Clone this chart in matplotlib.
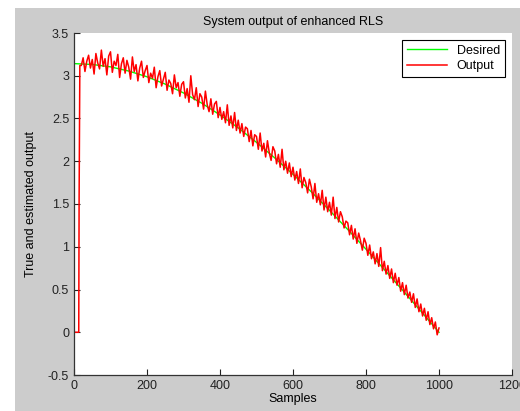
import numpy as np
import matplotlib
matplotlib.use("Agg")
import matplotlib.pyplot as plt
from matplotlib.patches import Rectangle

# Desired signal (read every 50 samples)
n_desired = [0, 50, 100, 150, 200, 250, 300, 350, 400, 450, 500,
             550, 600, 650, 700, 750, 800, 850, 900, 950, 1000]
desired = [3.142, 3.132, 3.104, 3.055, 2.988, 2.902, 2.799, 2.679, 2.542, 2.390, 2.221,
           2.039, 1.847, 1.643, 1.426, 1.202, 0.971, 0.734, 0.493, 0.248, 0.0]

# Output of enhanced RLS: start-up step, then read every 5 samples from 20 on
n_start = [0, 13, 14, 16]
output_start = [0.0, 0.0, 1.57, 3.12]
output = [
    3.12, 3.21, 3.05, 3.17, 3.24, 3.09,
    3.19, 3.02, 3.26, 3.15, 3.08, 3.30, 3.11, 3.20, 3.01, 3.23,
    3.28, 3.04, 3.17, 3.12, 3.25, 2.98, 3.14, 3.21, 3.03, 3.18,
    3.10, 2.96, 3.22, 3.05, 3.13, 2.94, 3.09, 3.17, 2.98, 3.06,
    3.12, 2.92, 3.03, 2.97, 3.10, 2.86, 2.99, 3.06, 2.88, 2.96,
    3.04, 2.83, 2.95, 2.91, 2.79, 3.01, 2.86, 2.92, 2.76, 2.90,
    2.93, 2.74, 2.85, 2.69, 3.00, 2.78, 2.72, 2.86, 2.64, 2.79,
    2.75, 2.61, 2.82, 2.66, 2.58, 2.73, 2.55, 2.67, 2.70, 2.51,
    2.63, 2.49, 2.58, 2.45, 2.66, 2.42, 2.53, 2.39, 2.57, 2.36,
    2.48, 2.33, 2.44, 2.29, 2.40, 2.38, 2.23, 2.36, 2.18, 2.31,
    2.29, 2.14, 2.33, 2.12, 2.21, 2.05, 2.24, 2.10, 2.01, 2.17,
    2.12, 1.97, 2.08, 1.93, 2.14, 1.90, 2.00, 1.86, 1.98, 1.82,
    1.93, 1.78, 1.88, 1.74, 1.91, 1.69, 1.81, 1.75, 1.63, 1.79,
    1.70, 1.56, 1.74, 1.52, 1.62, 1.49, 1.66, 1.43, 1.58, 1.41,
    1.52, 1.37, 1.58, 1.33, 1.46, 1.29, 1.41, 1.35, 1.22, 1.30,
    1.28, 1.14, 1.25, 1.09, 1.21, 1.04, 1.16, 1.07, 0.96, 1.10,
    1.04, 0.90, 1.02, 0.86, 0.94, 0.80, 0.92, 0.77, 0.99, 0.72,
    0.83, 0.68, 0.78, 0.63, 0.74, 0.58, 0.69, 0.55, 0.64, 0.48,
    0.58, 0.44, 0.55, 0.40, 0.47, 0.35, 0.45, 0.29, 0.39, 0.24,
    0.33, 0.19, 0.28, 0.14, 0.24, 0.09, 0.17, 0.04, 0.12, -0.03,
    0.05,
]
n_output = n_start + list(range(20, 20 + 5 * len(output), 5))
output_all = output_start + output

plt.rcParams['font.family'] = ['Liberation Sans', 'DejaVu Sans']

fig = plt.figure(figsize=(5.2, 4.11), dpi=100, facecolor='#cccccc')
# white border of the screenshot
fig.add_artist(Rectangle((0, 0), 15 / 520, 1, transform=fig.transFigure,
                         facecolor='white', edgecolor='none'))
fig.add_artist(Rectangle((0, 1 - 8 / 411), 1, 8 / 411, transform=fig.transFigure,
                         facecolor='white', edgecolor='none'))

ax = fig.add_axes([74 / 520, 36 / 411, 438 / 520, 342 / 411])
ax.plot(n_desired, desired, color='#00ff00', lw=1, label='Desired')
ax.plot(n_output, output_all, color='#ff0000', lw=1.1, label='Output')

ax.set_xlim(0, 1200)
ax.set_ylim(-0.5, 3.5)
ax.set_xticks(np.arange(0, 1201, 200))
ax.set_yticks(np.arange(-0.5, 3.51, 0.5))
ax.set_yticklabels(['-0.5', '0', '0.5', '1', '1.5', '2', '2.5', '3', '3.5'])
ax.tick_params(direction='in', length=4, labelsize=9, colors='#222222', width=0.8)
for s in ['top', 'right']:
    ax.spines[s].set_visible(False)
for s in ['left', 'bottom']:
    ax.spines[s].set_color('#333333')
    ax.spines[s].set_linewidth(0.9)

ax.set_title('System output of enhanced RLS', fontsize=9, pad=6)
ax.set_xlabel('Samples', fontsize=9, labelpad=1)
ax.set_ylabel('True and estimated output', fontsize=9, labelpad=8)

leg = ax.legend(loc='upper right', bbox_to_anchor=(0.984, 0.98), borderaxespad=0,
                fontsize=9, handlelength=3.2, fancybox=False, framealpha=1,
                edgecolor='black', labelspacing=0.25)
leg.get_frame().set_linewidth(0.8)

fig.savefig('out.png', dpi=100, facecolor=fig.get_facecolor())
